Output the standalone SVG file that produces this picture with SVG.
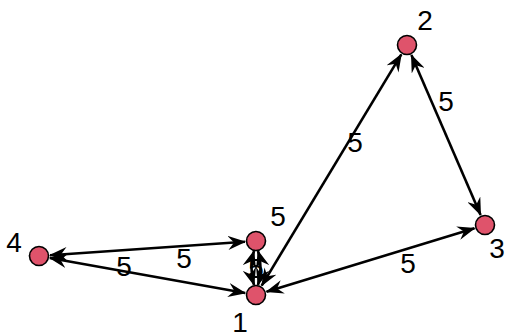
<svg xmlns="http://www.w3.org/2000/svg" width="517" height="336" viewBox="0 0 517 336">
<style>
.e{stroke:#000;stroke-width:2.6;fill:none;marker-start:url(#a);marker-end:url(#a)}
.n{fill:#DF536B;stroke:#000;stroke-width:1.6}
text{font-family:"Liberation Sans",Arial,sans-serif;font-size:28px;fill:#000;text-anchor:middle;dominant-baseline:central}
</style>
<defs>
<marker id="a" viewBox="0 0 18 14" refX="17" refY="7" markerWidth="18" markerHeight="14" markerUnits="userSpaceOnUse" orient="auto-start-reverse">
<path d="M0,0 L18,7 L0,14 L6,7 Z" fill="#000"/>
</marker>
</defs>
<rect width="517" height="336" fill="#fff"/>
<g id="edges">
<line class="e" x1="261.7" y1="285.6" x2="401.3" y2="54.4"/>
<line class="e" x1="411.4" y1="55.1" x2="480.6" y2="214.9"/>
<line class="e" x1="266.5" y1="291.8" x2="474.5" y2="228.2"/>
<line class="e" x1="50" y1="255.2" x2="245" y2="241.8"/>
<line class="e" x1="49.8" y1="258" x2="245.2" y2="293"/>
<path class="e" d="M254,251 Q249,268 254,285"/>
<path class="e" d="M258,251 Q263,268 258,285"/>
<text x="355" y="142">5</text>
<text x="446" y="101">5</text>
<text x="408" y="263">5</text>
<text x="184" y="258">5</text>
<text x="124" y="266">5</text>
<text x="256" y="268">5</text>
</g>
<g id="node1"><circle class="n" cx="256" cy="295" r="9.5"/><text x="240" y="322">1</text></g>
<g id="node2"><circle class="n" cx="407" cy="45" r="9.5"/><text x="425" y="20">2</text></g>
<g id="node3"><circle class="n" cx="485" cy="225" r="9.5"/><text x="497" y="248">3</text></g>
<g id="node4"><circle class="n" cx="39" cy="256" r="9.5"/><text x="14" y="242">4</text></g>
<g id="node5"><circle class="n" cx="256" cy="241" r="9.5"/><text x="278" y="216">5</text></g>
</svg>
